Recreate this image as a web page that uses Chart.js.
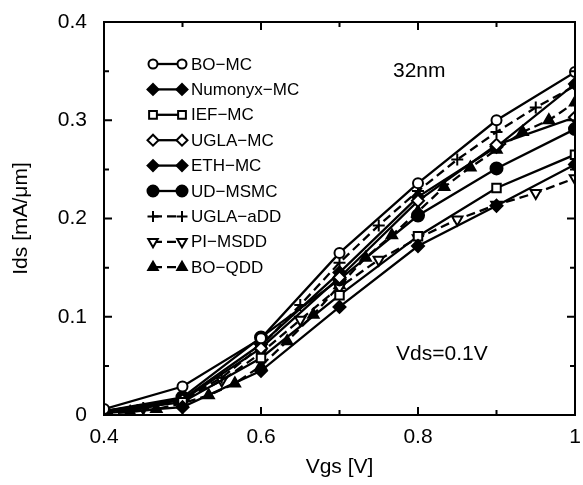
<!DOCTYPE html>
<html>
<head>
<meta charset="UTF-8">
<title>Ids vs Vgs</title>
<script src="https://cdn.jsdelivr.net/npm/chart.js@4"></script>
<style>
body{margin:0;padding:0;background:#fff;}
#wrap{width:583px;height:485px;}
</style>
</head>
<body>
<div id="wrap"><canvas id="c" width="583" height="485"></canvas></div>
<script>
// gate voltages (V)
const vgsMC  = [0.4, 0.5, 0.6, 0.7, 0.8, 0.9, 1.0];
const vgsDD  = [0.4, 0.45, 0.5, 0.55, 0.6, 0.65, 0.7, 0.75, 0.8, 0.85, 0.9, 0.95, 1.0];
const vgsQDD = [0.4, 0.4333, 0.4667, 0.5, 0.5333, 0.5667, 0.6, 0.6333, 0.6667, 0.7,
                0.7333, 0.7667, 0.8, 0.8333, 0.8667, 0.9, 0.9333, 0.9667, 1.0];

// drain current (mA/um)
const boMC      = [0.006, 0.029, 0.078, 0.165, 0.236, 0.300, 0.349];
const numonyxMC = [0.002, 0.008, 0.045, 0.110, 0.172, 0.213, 0.255];
const iefMC     = [0.003, 0.013, 0.058, 0.122, 0.182, 0.231, 0.265];
const uglaMC    = [0.004, 0.015, 0.068, 0.140, 0.218, 0.275, 0.303];
const ethMC     = [0.004, 0.016, 0.072, 0.145, 0.222, 0.273, 0.337];
const udMSMC    = [0.004, 0.018, 0.079, 0.138, 0.203, 0.251, 0.291];
const uglaADD   = [0.002, 0.007, 0.016, 0.038, 0.070, 0.112, 0.155, 0.193, 0.228, 0.260, 0.288, 0.313, 0.335];
const piMSDD    = [0.002, 0.007, 0.015, 0.035, 0.063, 0.097, 0.130, 0.158, 0.180, 0.199, 0.214, 0.226, 0.241];
const boQDD     = [0.001, 0.003, 0.006, 0.012, 0.020, 0.032, 0.050, 0.075, 0.102, 0.132,
                   0.160, 0.183, 0.207, 0.232, 0.252, 0.270, 0.288, 0.300, 0.318];

const names = ['BO\u2212MC','Numonyx\u2212MC','IEF\u2212MC','UGLA\u2212MC','ETH\u2212MC','UD\u2212MSMC','UGLA\u2212aDD','PI\u2212MSDD','BO\u2212QDD'];
const xTicks = [0.4, 0.6, 0.8, 1];
const yTicks = [0, 0.1, 0.2, 0.3, 0.4];

const FONT = 'Liberation Sans, Arial, Helvetica, sans-serif';

function pts(xs, ys){ return xs.map((x,i)=>({x:x, y:ys[i]})); }

function series(label, xs, ys, style, fill, dashed, radius, rotation){
  return {
    label: label,
    data: pts(xs, ys),
    borderColor: '#000',
    borderWidth: 2.3,
    borderDash: dashed ? [9,5] : [],
    pointStyle: style,
    pointRadius: radius,
    pointRotation: rotation || 0,
    pointBackgroundColor: fill ? '#000' : '#fff',
    pointBorderColor: '#000',
    pointBorderWidth: 2,
    tension: 0,
    fill: false
  };
}

const datasets = [
  series(names[0], vgsMC,  boMC,      'circle',  false, false, 5),
  series(names[1], vgsMC,  numonyxMC, 'rectRot', true,  false, 6),
  series(names[2], vgsMC,  iefMC,     'rect',    false, false, 6),
  series(names[3], vgsMC,  uglaMC,    'rectRot', false, false, 6),
  series(names[4], vgsMC,  ethMC,     'rectRot', true,  false, 6),
  series(names[5], vgsMC,  udMSMC,    'circle',  true,  false, 6),
  series(names[6], vgsDD,  uglaADD,   'cross',   false, true,  6),
  series(names[7], vgsDD,  piMSDD,    'triangle',false, true,  6, 180),
  series(names[8], vgsQDD, boQDD,     'triangle',true,  true,  6)
];

// inward ticks, frame, legend and notes
const decor = {
  id: 'decor',
  afterDraw(chart){
    const ctx = chart.ctx, a = chart.chartArea;
    const xs = chart.scales.x, ys = chart.scales.y;
    ctx.save();
    ctx.strokeStyle = '#000';
    ctx.lineWidth = 2;
    ctx.setLineDash([]);
    ctx.strokeRect(a.left, a.top, a.right - a.left, a.bottom - a.top);
    for (let k = 0; k <= 6; k++){
      const v = 0.4 + k*0.1;
      const px = xs.getPixelForValue(v);
      const len = (k % 2 === 0) ? 8 : 5;
      ctx.beginPath();
      ctx.moveTo(px, a.bottom); ctx.lineTo(px, a.bottom - len);
      ctx.moveTo(px, a.top); ctx.lineTo(px, a.top + len);
      ctx.stroke();
    }
    for (let k = 0; k <= 8; k++){
      const v = k*0.05;
      const py = ys.getPixelForValue(v);
      const len = (k % 2 === 0) ? 8 : 5;
      ctx.beginPath();
      ctx.moveTo(a.left, py); ctx.lineTo(a.left + len, py);
      ctx.moveTo(a.right, py); ctx.lineTo(a.right - len, py);
      ctx.stroke();
    }
    // legend
    const x1 = 153, x2 = 182, y0 = 64, dy = 25.4;
    ctx.font = '17px ' + FONT;
    ctx.textBaseline = 'middle';
    ctx.textAlign = 'left';
    chart.data.datasets.forEach((ds, i) => {
      const y = y0 + i*dy;
      ctx.strokeStyle = '#000';
      ctx.lineWidth = 2.3;
      ctx.setLineDash(ds.borderDash);
      ctx.beginPath(); ctx.moveTo(x1, y); ctx.lineTo(x2, y); ctx.stroke();
      ctx.setLineDash([]);
      ctx.lineWidth = ds.pointBorderWidth;
      ctx.fillStyle = ds.pointBackgroundColor;
      const opt = {pointStyle: ds.pointStyle, radius: ds.pointRadius - 0.5, rotation: ds.pointRotation, borderWidth: ds.pointBorderWidth};
      [x1, x2].forEach(px => { Chart.helpers.drawPoint(ctx, opt, px, y); });
      ctx.fillStyle = '#000';
      ctx.fillText(ds.label, 191, y + 1);
    });
    ctx.font = '21px ' + FONT;
    ctx.fillText('32nm', 393, 71);
    ctx.fillText('Vds=0.1V', 396, 354);
    ctx.restore();
  }
};

new Chart(document.getElementById('c'), {
  type: 'line',
  data: { datasets: datasets },
  options: {
    responsive: false,
    animation: false,
    layout: { padding: { top: 22, right: 4, left: 0, bottom: 0 } },
    plugins: { legend: { display: false }, tooltip: { enabled: false } },
    scales: {
      x: {
        type: 'linear', min: 0.4, max: 1.0,
        afterBuildTicks(s){ s.ticks = xTicks.map(v => ({value: v})); },
        afterFit(s){ s.height = 70; s.paddingLeft = 0; s.paddingRight = 0; },
        grid: { display: false, drawTicks: false },
        border: { display: true, color: '#000', width: 2 },
        ticks: { color: '#000', padding: 10, font: { family: FONT, size: 21 }, maxRotation: 0,
                 callback: v => String(Math.round(v*10)/10) },
        title: { display: true, text: 'Vgs [V]', color: '#000', font: { family: FONT, size: 21 }, padding: { bottom: 5 } }
      },
      y: {
        type: 'linear', min: 0, max: 0.4,
        afterBuildTicks(s){ s.ticks = yTicks.map(v => ({value: v})); },
        afterFit(s){ s.width = 104; s.paddingTop = 0; s.paddingBottom = 0; },
        grid: { display: false, drawTicks: false },
        border: { display: true, color: '#000', width: 2 },
        ticks: { color: '#000', padding: 17, font: { family: FONT, size: 21 },
                 callback: v => String(Math.round(v*10)/10) },
        title: { display: true, text: 'Ids [mA/\u03bcm]', color: '#000', font: { family: FONT, size: 21 }, padding: { top: 9 } }
      }
    }
  },
  plugins: [decor]
});
</script>
</body>
</html>
